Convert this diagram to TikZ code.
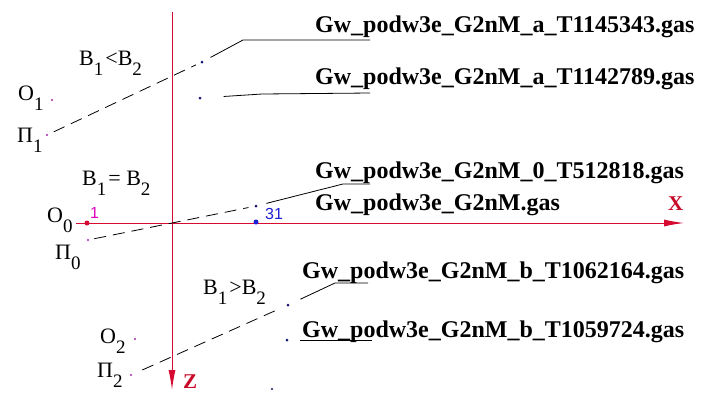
\documentclass[tikz,border=0pt]{standalone}
\usepackage{fontspec}
\setmainfont{Liberation Serif}
\newfontfamily\lsans{Liberation Sans}
\usetikzlibrary{arrows.meta}
\definecolor{axisred}{RGB}{215,10,50}
\definecolor{labred}{RGB}{200,10,40}
\definecolor{dotpurple}{RGB}{170,40,170}
\definecolor{dotnavy}{RGB}{20,20,110}
\definecolor{ptblue}{RGB}{30,30,210}
\definecolor{ptmag}{RGB}{225,0,190}
\newcommand\lsub[1]{\raisebox{-10pt}{\fontsize{19}{19}\selectfont #1}}
\begin{document}
\begin{tikzpicture}[x=1pt,y=-1pt,
 fname/.style={anchor=base west,inner sep=0pt,font=\fontsize{24}{24}\selectfont\bfseries},
 lab/.style={anchor=base west,inner sep=0pt,font=\fontsize{22}{22}\selectfont},
 axlab/.style={anchor=base west,inner sep=0pt,text=labred,font=\fontsize{21}{21}\selectfont\bfseries},
 numlab/.style={anchor=base west,inner sep=0pt,font=\fontsize{16}{16}\selectfont\lsans},
 axisline/.style={draw=axisred,line width=1pt,-{Latex[length=20pt,width=7pt]}},
 dsh/.style={draw=black,line width=0.8pt,dash pattern=on 12pt off 7pt},
 lead/.style={draw=black,line width=0.8pt},
 pdot/.style={circle,fill=dotpurple,inner sep=0pt,minimum size=2.4pt},
 ndot/.style={circle,fill=dotnavy,inner sep=0pt,minimum size=3pt},
]
\useasboundingbox[fill=white] (0,0) rectangle (704,392);
% axes
\coordinate (xs) at (76,223); \coordinate (xe) at (684,223);
\coordinate (zs) at (172,12); \coordinate (ze) at (172,390);
\draw[axisline] (xs) -- (xe);
\draw[axisline] (zs) -- (ze);
\node[axlab] (X) at (668,210) {X};
\node[axlab] (Z) at (183,388) {Z};
% group a
\node[lab] (Ba) at (79,65) {B\lsub{1}\kern2pt<B\lsub{2}};
\node[lab] (O1) at (18,100) {O\lsub{1}};
\node[pdot] (o1d) at (52,100) {};
\node[lab] (P1) at (17,142) {Π\lsub{1}};
\node[pdot] (p1d) at (47,135) {};
\node[ndot] (a1d) at (202,62) {};
\node[ndot] (a2d) at (200,98) {};
\node[fname] (a1) at (315,32) {Gw\_podw3e\_G2nM\_a\_T1145343.gas};
\node[fname] (a2) at (315,84) {Gw\_podw3e\_G2nM\_a\_T1142789.gas};
\coordinate (a1k) at (243,40); \coordinate (a1u) at (370,40);
\coordinate (a2k) at (262,94); \coordinate (a2u) at (370,93);
\draw[dsh,shorten <=6pt,shorten >=5pt] (p1d) -- (a1d);
\draw[lead,shorten <=8pt] (a1d) -- (a1k) -- (a1u);
\draw[lead,shorten <=22pt] (a2d) -- (a2k) -- (a2u);
% group 0
\node[lab] (B0) at (82,185) {B\lsub{1}\kern2pt= B\lsub{2}};
\node[lab] (O0) at (47,222) {O\lsub{0}};
\node[circle,fill=axisred,inner sep=0pt,minimum size=5pt] (r1) at (87,223) {};
\node[numlab,text=ptmag] (n1) at (90,218) {1};
\node[lab] (P0) at (55,259) {Π\lsub{0}};
\node[pdot] (p0d) at (88,240) {};
\node[ndot] (z0d) at (256,206) {};
\node[circle,fill=ptblue,inner sep=0pt,minimum size=5pt] (p31) at (256,222) {};
\node[numlab,text=ptblue] (n31) at (265,219) {31};
\node[fname] (z1) at (315,178) {Gw\_podw3e\_G2nM\_0\_T512818.gas};
\node[fname] (z2) at (315,210) {Gw\_podw3e\_G2nM.gas};
\coordinate (z0k) at (343,184); \coordinate (z0u) at (370,184);
\draw[dsh,shorten <=5pt,shorten >=6pt] (p0d) -- (z0d);
\draw[lead,shorten <=9pt] (z0d) -- (z0k) -- (z0u);
% group b
\node[lab] (Bb) at (203,294) {B\lsub{1}\kern2pt>B\lsub{2}};
\node[lab] (O2) at (100,343) {O\lsub{2}};
\node[pdot] (o2d) at (135,339) {};
\node[lab] (P2) at (97,377) {Π\lsub{2}};
\node[pdot] (p2d) at (131,375) {};
\node[ndot] (b1d) at (288,305) {};
\node[ndot] (b2d) at (287,340) {};
\node[ndot,minimum size=2.4pt] (bxd) at (272,389) {};
\node[fname] (b1) at (302,278) {Gw\_podw3e\_G2nM\_b\_T1062164.gas};
\node[fname] (b2) at (302,337) {Gw\_podw3e\_G2nM\_b\_T1059724.gas};
\coordinate (b1k) at (335,283); \coordinate (b1u) at (368,283);
\coordinate (b2u) at (372,340);
\draw[dsh,shorten <=11pt,shorten >=8pt] (p2d) -- (b1d);
\draw[lead,shorten <=12pt] (b1d) -- (b1k) -- (b1u);
\draw[lead,shorten <=11pt] (b2d) -- (b2u);
\end{tikzpicture}
\end{document}
